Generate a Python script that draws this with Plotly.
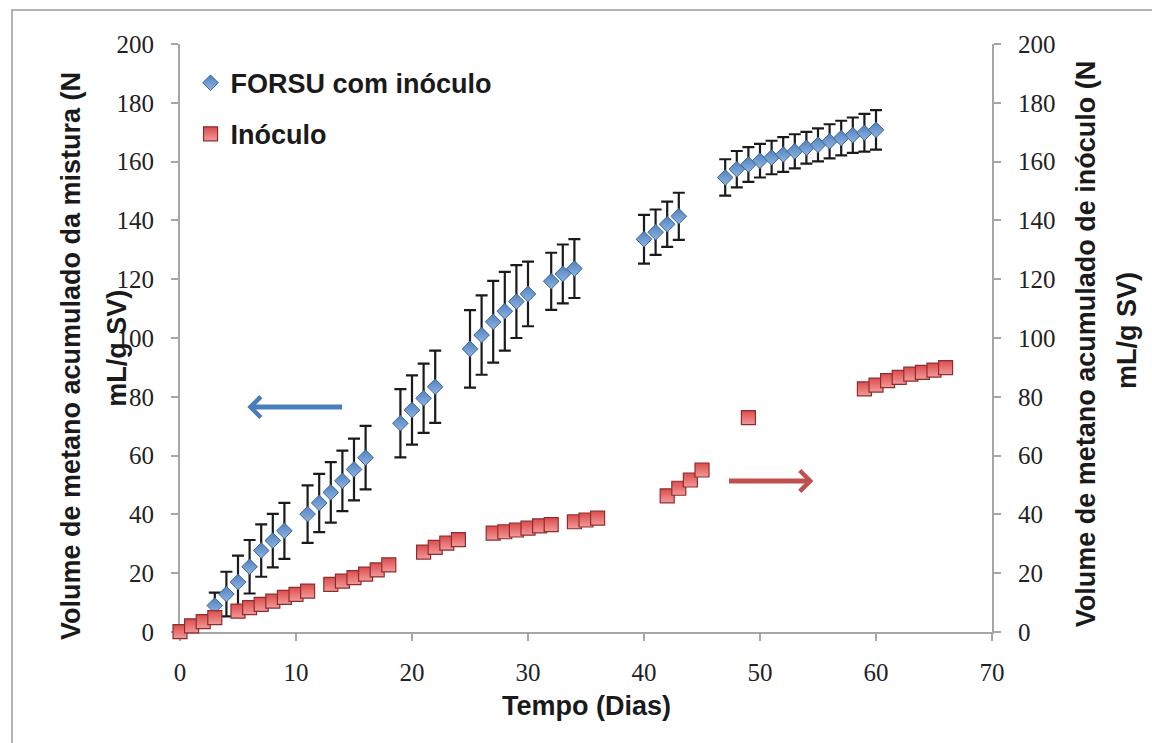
import plotly.graph_objects as go

# Cumulative methane volume of the mixture (FORSU + inoculum), with standard deviation
dias_forsu = [3, 4, 5, 6, 7, 8, 9, 11, 12, 13, 14, 15, 16, 19, 20, 21, 22,
              25, 26, 27, 28, 29, 30, 32, 33, 34, 40, 41, 42, 43,
              47, 48, 49, 50, 51, 52, 53, 54, 55, 56, 57, 58, 59, 60]
volume_forsu = [9.0, 12.9, 17.0, 22.2, 27.7, 31.1, 34.4, 40.1, 43.9, 47.5, 51.4, 55.3, 59.3,
                71.0, 75.5, 79.5, 83.4, 96.3, 101.0, 105.5, 109.1, 112.4, 115.0,
                119.3, 121.8, 123.6, 133.6, 136.0, 138.7, 141.4,
                154.6, 157.4, 159.0, 160.3, 161.4, 162.4, 163.5, 164.7, 165.7, 166.9,
                168.0, 169.0, 169.8, 170.8]
desvio_forsu = [4.4, 7.6, 9.0, 9.1, 8.9, 9.1, 9.5, 9.8, 9.9, 10.3, 10.3, 10.5, 10.8,
                11.6, 11.8, 11.8, 12.3, 13.2, 13.5, 13.9, 13.4, 12.4, 11.0,
                9.7, 10.0, 10.0, 8.3, 7.7, 7.7, 8.0,
                6.2, 6.2, 5.9, 5.7, 5.7, 5.9, 5.8, 5.4, 5.6, 5.8, 5.9, 6.0, 6.4, 6.7]

# Cumulative methane volume of the inoculum alone
dias_inoculo = [0, 1, 2, 3, 5, 6, 7, 8, 9, 10, 11, 13, 14, 15, 16, 17, 18,
                21, 22, 23, 24, 27, 28, 29, 30, 31, 32, 34, 35, 36,
                42, 43, 44, 45, 49, 59, 60, 61, 62, 63, 64, 65, 66]
volume_inoculo = [0.1, 2.1, 3.5, 4.9, 7.1, 8.3, 9.4, 10.5, 11.8, 12.8, 13.9,
                  16.2, 17.3, 18.5, 19.7, 21.1, 22.8, 27.2, 28.8, 30.2, 31.4,
                  33.6, 34.1, 34.7, 35.3, 36.1, 36.5, 37.5, 38.1, 38.7,
                  46.3, 48.9, 51.7, 55.1, 72.9,
                  82.7, 84.0, 85.5, 86.6, 87.7, 88.3, 89.1, 89.9]

x_ticks = [0, 10, 20, 30, 40, 50, 60, 70]
y_ticks = [0, 20, 40, 60, 80, 100, 120, 140, 160, 180, 200]

AZUL = "#4f81bd"
VERMELHO = "#dc4b4b"
EIXO = "#a6a6a6"
TITLE_FONT = dict(family="Liberation Sans, Arial", size=27, color="#1a1a1a", weight="bold")
TICK_FONT = dict(family="Liberation Serif, Times New Roman", size=25, color="#222222")

fig = go.Figure()

fig.add_trace(go.Scatter(
    x=dias_forsu, y=volume_forsu, mode="markers", name="FORSU com inóculo",
    legendgroup="a", cliponaxis=False,
    marker=dict(symbol="diamond", size=12, color=AZUL,
                gradient=dict(type="vertical", color="#8fb4e3"),
                line=dict(color="#3b6396", width=1)),
    error_y=dict(type="data", array=desvio_forsu, visible=True,
                 color="#1a1a1a", thickness=2.2, width=6),
))

fig.add_trace(go.Scatter(
    x=dias_inoculo, y=volume_inoculo, mode="markers", name="Inóculo",
    legendgroup="b", yaxis="y2", cliponaxis=False,
    marker=dict(symbol="square", size=14, color=VERMELHO,
                gradient=dict(type="vertical", color="#f29a9a"),
                line=dict(color="#8c2e2e", width=1.2)),
))

axis_common = dict(
    showgrid=False, zeroline=False, showline=True, linecolor=EIXO, linewidth=2,
    ticks="outside", tickcolor=EIXO, tickwidth=2, ticklen=7,
    tickfont=TICK_FONT, layer="below traces",
)

fig.update_layout(
    width=1152, height=743,
    margin=dict(l=180, r=160, t=44, b=111),
    paper_bgcolor="white", plot_bgcolor="white",
    showlegend=True,
    legend=dict(x=0.013, y=0.975, xanchor="left", yanchor="top",
                font=dict(family="Liberation Sans, Arial", size=27, color="#1a1a1a",
                          weight="bold"),
                bgcolor="rgba(0,0,0,0)", traceorder="grouped", tracegroupgap=13,
                itemwidth=30),
    xaxis=dict(range=[0, 70], tickvals=x_ticks, ticklabelstandoff=10, **axis_common),
    yaxis=dict(range=[0, 200], tickvals=y_ticks, ticklabelstandoff=12, **axis_common),
    yaxis2=dict(range=[0, 200], tickvals=y_ticks, overlaying="y", side="right",
                ticklabelstandoff=12, **axis_common),
)

# Axis titles
titles = [
    ("Tempo (Dias)", 0.5, -0.125, 0),
    ("Volume de metano acumulado da mistura (N", -0.135, 0.470, -90),
    ("mL/g SV)", -0.078, 0.483, -90),
    ("Volume de metano acumulado de inóculo (N", 1.115, 0.490, -90),
    ("mL/g SV)", 1.167, 0.513, -90),
]
for texto, px, py, ang in titles:
    fig.add_annotation(text=texto, xref="paper", yref="paper", x=px, y=py,
                       xanchor="center", yanchor="middle", textangle=ang,
                       showarrow=False, font=TITLE_FONT)

# Arrows pointing each series to its axis
fig.add_annotation(x=5.8, y=76.5, ax=14.1, ay=76.5, xref="x", yref="y",
                   axref="x", ayref="y", text="", showarrow=True,
                   arrowhead=4, arrowsize=0.8, arrowwidth=5, arrowcolor="#4a7ebb")
fig.add_annotation(x=54.6, y=51.4, ax=47.2, ay=51.4, xref="x", yref="y2",
                   axref="x", ayref="y2", text="", showarrow=True,
                   arrowhead=4, arrowsize=0.8, arrowwidth=5, arrowcolor="#c0504d")

# Outer frame of the chart area
fig.add_shape(type="rect", xref="paper", yref="paper",
              x0=(12 - 180) / 812, x1=(1170 - 180) / 812,
              y0=(632 - 760) / 588, y1=(632 - 10) / 588,
              line=dict(color="#b3b3b3", width=2), fillcolor="rgba(0,0,0,0)", layer="below")

fig.write_html("out.html")
